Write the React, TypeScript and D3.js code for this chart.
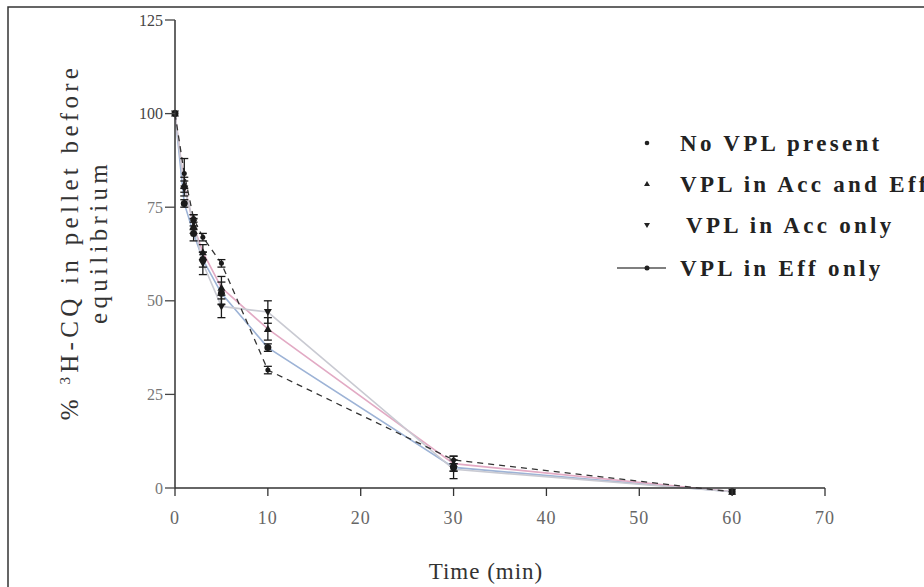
import React from "react";
import * as d3 from "d3";

const times = [0, 1, 2, 3, 5, 10, 30, 60];
const seriesNames = ["No VPL present", "VPL in Acc and Eff", "VPL in Acc only", "VPL in Eff only"];
const noVpl = [100, 76, 68, 61, 52, 37.5, 5.5, -1];
const accEff = [100, 81, 70, 63, 53.5, 42.5, 6.5, -1];
const accOnly = [100, 80, 71, 60, 48.5, 47, 5, -1];
const effOnly = [100, 84, 72, 67, 60, 31.5, 7.5, -1];
const noVplErr = [0, 1, 2, 2, 3, 1, 1, 0];
const accEffErr = [0, 2, 2, 2, 3, 3, 2, 0];
const accOnlyErr = [0, 2, 2, 3, 3, 3, 2.5, 0];
const effOnlyErr = [0, 4, 1, 1, 1, 1, 1, 0];
const xTicks = [0, 10, 20, 30, 40, 50, 60, 70];
const yTicks = [0, 25, 50, 75, 100, 125];

const W = 924, H = 587;
const x = d3.scaleLinear().domain([0, 70]).range([175, 825]);
const y = d3.scaleLinear().domain([0, 125]).range([488, 20]);

const font = "'Liberation Serif', 'DejaVu Serif', serif";

const series = [
  { name: seriesNames[0], values: noVpl, err: noVplErr, color: "#9db3d6", dash: "", marker: "circle" },
  { name: seriesNames[1], values: accEff, err: accEffErr, color: "#e2aac4", dash: "", marker: "tri" },
  { name: seriesNames[2], values: accOnly, err: accOnlyErr, color: "#c9cad2", dash: "", marker: "invtri" },
  { name: seriesNames[3], values: effOnly, err: effOnlyErr, color: "#333", dash: "6 5", marker: "dot" },
];

function Marker({ kind, cx, cy }: { kind: string; cx: number; cy: number }) {
  const c = "#1a1a1a";
  if (kind === "circle") return <circle cx={cx} cy={cy} r={3.5} fill={c} />;
  if (kind === "tri") return <path d={`M${cx},${cy - 4} L${cx + 4},${cy + 3} L${cx - 4},${cy + 3}Z`} fill={c} />;
  if (kind === "invtri") return <path d={`M${cx},${cy + 4} L${cx + 4},${cy - 3} L${cx - 4},${cy - 3}Z`} fill={c} />;
  return <circle cx={cx} cy={cy} r={2.5} fill={c} />;
}

export default function App() {
  const line = d3.line<number>().x((_, i) => x(times[i])).y((v) => y(v));
  const legendY = [143, 184, 225, 268];
  return (
    <svg width={W} height={H} style={{ position: "absolute", left: 0, top: 0, background: "#fff" }}>
      <rect x={0} y={0} width={W} height={H} fill="#fff" />
      <path d={`M8,${H} L8,7 L${W},7`} fill="none" stroke="#333" strokeWidth={1.5} />
      {series.map((s) => (
        <path key={s.name} d={line(s.values) || ""} fill="none" stroke={s.color} strokeWidth={s.dash ? 1.3 : 1.6} strokeDasharray={s.dash} />
      ))}
      {series.map((s) =>
        s.values.map((v, i) =>
          s.err[i] > 0 ? (
            <g key={s.name + i} stroke="#1a1a1a" strokeWidth={1.3}>
              <line x1={x(times[i])} x2={x(times[i])} y1={y(v + s.err[i])} y2={y(v - s.err[i])} />
              <line x1={x(times[i]) - 4} x2={x(times[i]) + 4} y1={y(v + s.err[i])} y2={y(v + s.err[i])} />
              <line x1={x(times[i]) - 4} x2={x(times[i]) + 4} y1={y(v - s.err[i])} y2={y(v - s.err[i])} />
            </g>
          ) : null
        )
      )}
      {series.map((s) =>
        s.values.map((v, i) => <Marker key={s.name + "m" + i} kind={s.marker} cx={x(times[i])} cy={y(v)} />)
      )}
      <line x1={x(0)} x2={x(0)} y1={y(125)} y2={y(0)} stroke="#333" strokeWidth={1.5} />
      <line x1={x(0)} x2={x(70)} y1={y(0)} y2={y(0)} stroke="#333" strokeWidth={1.5} />
      {yTicks.map((t) => (
        <g key={"y" + t}>
          <line x1={x(0) - 10} x2={x(0)} y1={y(t)} y2={y(t)} stroke="#444" strokeWidth={1.3} />
          <text x={x(0) - 12} y={y(t)} dy="0.35em" textAnchor="end" fontFamily={font} fontSize={16} fill={t >= 100 ? "#444" : "#777"}>
            {t}
          </text>
        </g>
      ))}
      {xTicks.map((t) => (
        <g key={"x" + t}>
          <line x1={x(t)} x2={x(t)} y1={y(0)} y2={y(0) + 8} stroke="#333" strokeWidth={1.3} />
          <text x={x(t)} y={y(0) + 36} textAnchor="middle" fontFamily={font} fontSize={18} letterSpacing={1} fill="#666">
            {t}
          </text>
        </g>
      ))}
      <text x={486} y={579} textAnchor="middle" fontFamily={font} fontSize={23} letterSpacing={1} fill="#333">
        Time (min)
      </text>
      <g transform="translate(78,242) rotate(-90)">
        <text x={0} y={0} textAnchor="middle" fontFamily={font} fontSize={25} letterSpacing={4.3} fill="#333">
          % <tspan baselineShift="super" fontSize={15}>3</tspan>H-CQ in pellet before
        </text>
        <text x={0} y={29} textAnchor="middle" fontFamily={font} fontSize={25} letterSpacing={4.3} fill="#333">
          equilibrium
        </text>
      </g>
      {series.map((s, i) => (
        <g key={"lg" + i}>
          {s.marker === "dot" && <line x1={617} x2={666} y1={legendY[i]} y2={legendY[i]} stroke="#555" strokeWidth={1.3} />}
          {s.marker === "dot" ? (
            <circle cx={647} cy={legendY[i]} r={2.5} fill="#222" />
          ) : s.marker === "circle" ? (
            <circle cx={647} cy={legendY[i]} r={2.3} fill="#222" />
          ) : s.marker === "tri" ? (
            <path d={`M647,${legendY[i] - 3} L650,${legendY[i] + 2} L644,${legendY[i] + 2}Z`} fill="#222" />
          ) : (
            <path d={`M647,${legendY[i] + 3} L650,${legendY[i] - 2} L644,${legendY[i] - 2}Z`} fill="#222" />
          )}
          <text x={i === 2 ? 686 : 680} y={legendY[i]} dy="0.35em" fontFamily={font} fontSize={23} fontWeight="bold" letterSpacing={3.3} fill="#222">
            {s.name}
          </text>
        </g>
      ))}
    </svg>
  );
}
